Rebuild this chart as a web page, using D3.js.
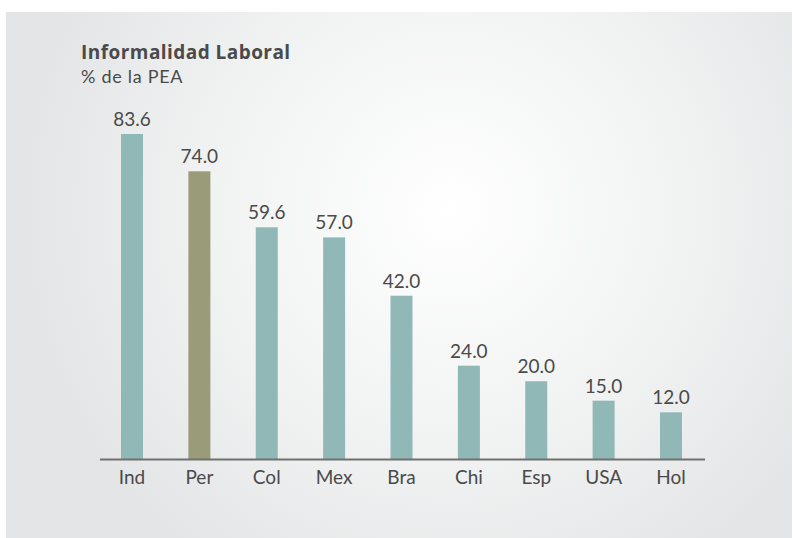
<!DOCTYPE html>
<html>
<head>
<meta charset="utf-8">
<title>Informalidad Laboral</title>
<script src="https://cdn.jsdelivr.net/npm/d3@7"></script>
<style>
  body { margin: 0; background: #fff; }
  svg text { font-family: Lato, "Noto Sans", sans-serif; fill: #4a4a4a; }
</style>
</head>
<body>
<div id="chart"></div>
<script>
// data
var countries = ["Ind", "Per", "Col", "Mex", "Bra", "Chi", "Esp", "USA", "Hol"];
var values = [83.6, 74.0, 59.6, 57.0, 42.0, 24.0, 20.0, 15.0, 12.0];
var highlight = "Per";

var width = 793, height = 538;
var base = 459, top0 = 134;

var svg = d3.select("#chart").append("svg")
    .attr("width", width)
    .attr("height", height);

var defs = svg.append("defs");
var grad = defs.append("radialGradient")
    .attr("id", "bg")
    .attr("gradientUnits", "userSpaceOnUse")
    .attr("cx", 450).attr("cy", 210).attr("r", 430);
grad.append("stop").attr("offset", "0%").attr("stop-color", "#ffffff");
grad.append("stop").attr("offset", "55%").attr("stop-color", "#f1f2f2");
grad.append("stop").attr("offset", "100%").attr("stop-color", "#e4e5e6");

svg.append("rect")
    .attr("x", 6).attr("y", 12)
    .attr("width", 786).attr("height", 526)
    .attr("fill", "url(#bg)");

var x = d3.scalePoint()
    .domain(countries)
    .range([132, 671]);

var y = d3.scaleLinear()
    .domain([0, 83.6])
    .range([base, top0]);

var barW = 22;

svg.append("g").selectAll("rect")
    .data(values)
    .join("rect")
    .attr("x", function(d, i) { return x(countries[i]) - barW / 2; })
    .attr("y", function(d) { return y(d); })
    .attr("width", barW)
    .attr("height", function(d) { return base - y(d); })
    .attr("fill", function(d, i) { return countries[i] == highlight ? "#9a9b78" : "#8fb8b7"; });

svg.append("g").selectAll("text")
    .data(values)
    .join("text")
    .attr("x", function(d, i) { return x(countries[i]); })
    .attr("y", function(d) { return y(d) - 8; })
    .attr("text-anchor", "middle")
    .style("font-size", "19px")
    .text(function(d) { return d3.format(".1f")(d); });

// baseline + category labels
svg.append("line")
    .attr("x1", 100).attr("x2", 705)
    .attr("y1", base + 0.5).attr("y2", base + 0.5)
    .attr("stroke", "#707070")
    .attr("stroke-width", 2);

svg.append("g").selectAll("text")
    .data(countries)
    .join("text")
    .attr("x", function(d) { return x(d); })
    .attr("y", 484)
    .attr("text-anchor", "middle")
    .style("font-size", "19px")
    .text(function(d) { return d; });

svg.append("text")
    .attr("x", 81).attr("y", 59)
    .style("font-family", "'Open Sans', Lato, sans-serif")
    .style("font-size", "19px")
    .style("font-weight", "bold")
    .style("letter-spacing", "0.45px")
    .text("Informalidad Laboral");

svg.append("text")
    .attr("x", 81).attr("y", 83)
    .style("font-size", "18px")
    .style("letter-spacing", "0.7px")
    .text("% de la PEA");
</script>
</body>
</html>
